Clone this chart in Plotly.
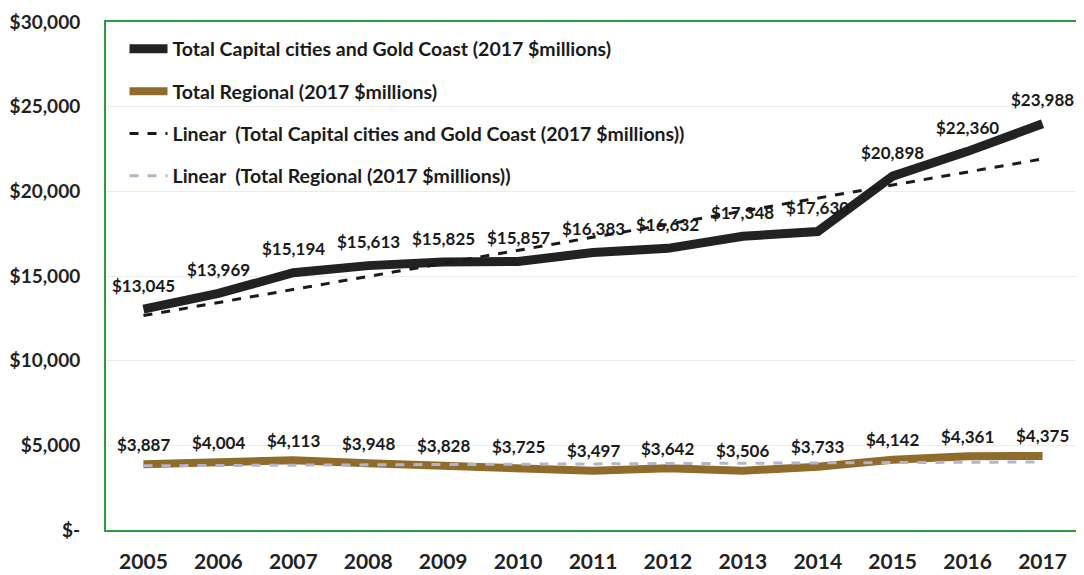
import numpy as np
import plotly.graph_objects as go

years = [2005, 2006, 2007, 2008, 2009, 2010, 2011, 2012, 2013, 2014, 2015, 2016, 2017]
capital = [13045, 13969, 15194, 15613, 15825, 15857, 16383, 16632, 17348, 17630, 20898, 22360, 23988]
regional = [3887, 4004, 4113, 3948, 3828, 3725, 3497, 3642, 3506, 3733, 4142, 4361, 4375]
ytick_vals = [0, 5000, 10000, 15000, 20000, 25000, 30000]
ytick_text = ["$-", "$5,000", "$10,000", "$15,000", "$20,000", "$25,000", "$30,000"]

names = [
    "Total Capital cities and Gold Coast (2017 $millions)",
    "Total Regional (2017 $millions)",
    "Linear  (Total Capital cities and Gold Coast (2017 $millions))",
    "Linear  (Total Regional (2017 $millions))",
]

xa = np.array(years, dtype=float)
cap_fit = np.polyval(np.polyfit(xa, capital, 1), xa)
reg_fit = np.polyval(np.polyfit(xa, regional, 1), xa)

FONT = "Lato"
fig = go.Figure()

fig.add_trace(go.Scatter(
    x=years, y=capital, mode="lines", name=names[0], legendgroup="a",
    line=dict(color="#222222", width=9),
))
fig.add_trace(go.Scatter(
    x=years, y=regional, mode="lines", name=names[1], legendgroup="b",
    line=dict(color="#8f6c2c", width=8),
))
fig.add_trace(go.Scatter(
    x=years, y=cap_fit, mode="lines", name=names[2], legendgroup="c",
    line=dict(color="#1a1a1a", width=3, dash="dash"),
))
fig.add_trace(go.Scatter(
    x=years, y=reg_fit, mode="lines", name=names[3], legendgroup="d",
    line=dict(color="#b4b4cc", width=3, dash="dash"),
))

label_font = dict(family=FONT, size=17, color="#1a1a1a", weight="bold")
annotations = []
for x, v in zip(years, capital):
    annotations.append(dict(x=x, y=v, text="$" + format(v, ","), showarrow=False,
                            yshift=24, font=label_font, xref="x", yref="y"))
for x, v in zip(years, regional):
    annotations.append(dict(x=x, y=v, text="$" + format(v, ","), showarrow=False,
                            yshift=20, font=label_font, xref="x", yref="y"))

# page body has an 8px margin, so the figure is sized and offset to compensate
fig.update_layout(
    width=1076, height=567,
    margin=dict(l=94, r=2, t=14, b=42),
    paper_bgcolor="white", plot_bgcolor="white",
    font=dict(family=FONT, color="#222222"),
    annotations=annotations,
    legend=dict(
        x=0.019, y=0.985, xanchor="left", yanchor="top",
        bgcolor="rgba(255,255,255,0)",
        font=dict(family=FONT, size=19.5, color="#1a1a1a", weight="bold"),
        tracegroupgap=14, itemwidth=38,
    ),
    xaxis=dict(
        range=[2004.5, 2017.5], tickvals=years, ticktext=[str(y) for y in years],
        showgrid=False, zeroline=False,
        showline=True, linecolor="#2e9a3e", linewidth=2, mirror=True,
        ticks="", ticklabelstandoff=12,
        tickfont=dict(family=FONT, size=21, color="#222222", weight="bold"),
    ),
    yaxis=dict(
        range=[0, 30000], tickvals=ytick_vals, ticktext=ytick_text,
        showgrid=True, gridcolor="#ececec", gridwidth=1, zeroline=False,
        showline=True, linecolor="#2e9a3e", linewidth=2, mirror=True,
        ticks="", ticklabelstandoff=20, ticklabeloverflow="allow",
        tickfont=dict(family=FONT, size=19, color="#222222", weight="bold"),
    ),
)

fig.write_html("out.html")
